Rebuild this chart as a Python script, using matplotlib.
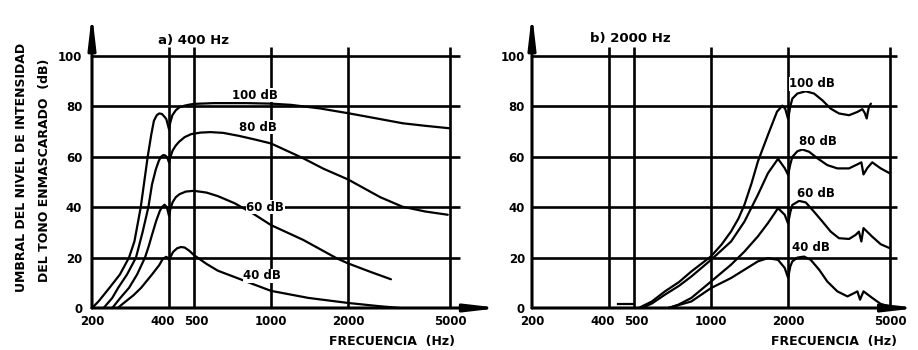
import matplotlib
matplotlib.use("Agg")
import matplotlib.pyplot as plt
import matplotlib.transforms as mtransforms

plt.rcParams['font.family'] = ['DejaVu Sans']

# ---------------- data ----------------
freq_ticks = [200, 400, 500, 1000, 2000, 5000]
freq_tick_labels = ["200", "400", "500", "1000", "2000", "5000"]
level_ticks = [0, 20, 40, 60, 80, 100]
level_tick_labels = ["0", "20", "40", "60", "80", "100"]
curve_names = ["100 dB", "80 dB", "60 dB", "40 dB"]

# a) masker 400 Hz
a100_f = [200, 212, 234, 257, 279, 293, 310, 330, 341, 349, 358, 366, 375, 383, 390, 396, 400, 404, 412, 425, 440, 460, 480, 500, 600, 800, 1000, 1200, 1550, 2000, 2500, 3270, 4000, 5000]
a100_y = [0, 2.6, 8, 13.3, 20, 26.5, 40, 60, 69, 74.3, 76.5, 77.2, 77, 76, 75, 72.5, 70.8, 73.5, 76.5, 78.5, 79.7, 80.3, 80.7, 81, 81.3, 81.3, 81.1, 80.6, 79.2, 77.3, 75.5, 73.3, 72.3, 71.3]
a80_f = [222, 240, 253, 274, 297, 315, 332, 343, 355, 365, 372, 380, 387, 394, 400, 405, 413, 425, 438, 460, 488, 530, 580, 650, 750, 870, 1000, 1337, 1600, 2000, 2667, 3260, 4000, 4900]
a80_y = [0, 4, 8, 13.3, 20, 30, 40, 49, 55, 58.5, 60, 60.7, 60.5, 59.5, 57.7, 60, 62.5, 64.5, 66, 67.8, 69, 69.6, 69.8, 69.5, 68.3, 66.8, 65.3, 59.4, 55.3, 51, 44, 40.2, 38.3, 37]
a60_f = [240, 258, 279, 300, 322, 333, 343, 356, 368, 375, 384, 392, 400, 405, 413, 425, 440, 465, 500, 560, 620, 720, 850, 1000, 1337, 1807, 2000, 2436, 2940]
a60_y = [0, 4, 8, 13.3, 20, 24.5, 29, 34.5, 38.5, 40, 41, 40, 36.5, 39.5, 42, 44, 45.2, 46.2, 46.5, 45.8, 44.4, 41.6, 37.5, 32.9, 27, 19.7, 17.7, 14.4, 11.4]
a40_f = [252, 270, 290, 311, 343, 366, 378, 390, 396, 400, 405, 415, 430, 445, 460, 480, 500, 530, 560, 620, 720, 850, 1000, 1400, 2000, 2600, 3190]
a40_y = [0, 2.5, 5, 8, 13.3, 17, 19.5, 20.3, 19.8, 19, 20.3, 22.3, 23.7, 24.2, 24, 22.7, 21, 19.2, 17.5, 14.8, 12.3, 9.5, 6.8, 4, 2, 0.8, 0]

# b) masker 2000 Hz
b100_f = [522, 588, 661, 750, 838, 1000, 1100, 1198, 1280, 1351, 1440, 1524, 1669, 1810, 1900, 1950, 2000, 2040, 2078, 2174, 2344, 2526, 2723, 2935, 3160, 3460, 3729, 3900, 3980, 4056, 4100, 4140, 4210]
b100_y = [0, 2.6, 6.6, 10.3, 14.5, 20.5, 25.2, 30.4, 35.5, 41, 49.5, 58.1, 68.7, 77.9, 80.3, 79, 75, 80, 83.1, 85.1, 86, 85.1, 82.4, 79.1, 77.2, 76.5, 77.8, 78.9, 77.5, 75.2, 78, 79.8, 81.1]
b80_f = [538, 588, 661, 750, 838, 1000, 1198, 1351, 1524, 1669, 1827, 1940, 2000, 2040, 2078, 2174, 2274, 2416, 2604, 2846, 3114, 3460, 3729, 3865, 3940, 4082, 4262, 4600, 5000]
b80_y = [0, 1.8, 5.3, 8.8, 12.5, 19.1, 26.4, 34.3, 44.9, 53.5, 59.2, 55.5, 52.8, 57, 60, 62.2, 62.9, 62, 59.4, 56.7, 55.4, 55.4, 57, 57.8, 53, 55.6, 57.8, 55.4, 53.4]
b60_f = [682, 745, 838, 1000, 1198, 1351, 1524, 1669, 1827, 1940, 2000, 2040, 2078, 2208, 2344, 2526, 2723, 2935, 3160, 3460, 3670, 3780, 3865, 3940, 4262, 4600, 5000]
b60_y = [0, 1.3, 4, 10.5, 17.2, 22.4, 28.4, 33.7, 39.6, 37, 33.5, 38, 40.9, 42.5, 41.9, 38.2, 34.3, 30.3, 27.7, 27.4, 29, 30.3, 26.4, 31.7, 28.3, 25.3, 23.7]
b40_f = [682, 838, 1000, 1198, 1351, 1524, 1669, 1827, 1940, 2000, 2040, 2078, 2174, 2310, 2452, 2644, 2846, 3114, 3410, 3620, 3729, 3820, 3940, 4262, 4600, 5000]
b40_y = [0, 2.6, 7.9, 11.9, 15.2, 18.5, 19.8, 19.1, 15.9, 12, 16.5, 18.5, 20, 20.4, 19.1, 15.2, 10.5, 6.6, 4.6, 5.9, 6.6, 3.3, 6.6, 4, 1.6, 0.6]
b_stub_f = [434, 500]
b_stub_y = [1.6, 1.6]

panels = [
    dict(title="a) 400 Hz",
         curves=[(a100_f, a100_y), (a80_f, a80_y), (a60_f, a60_y), (a40_f, a40_y)],
         label_pos=[(867, 84.5), (889, 71.8), (948, 40.0), (923, 12.7)],
         title_pos=(362, 106.3), hline_end=5480, arrow_end=7840, ypad=7),
    dict(title="b) 2000 Hz",
         curves=[(b100_f, b100_y), (b80_f, b80_y), (b60_f, b60_y), (b40_f, b40_y)],
         label_pos=[(2483, 88.9), (2619, 66.0), (2580, 45.5), (2467, 24.0)],
         title_pos=(337, 107.0), hline_end=5320, arrow_end=6440, ypad=5),
]

W, H = 918, 350
fig = plt.figure(figsize=(W / 100, H / 100), dpi=100)
fig.patch.set_facecolor("white")

ax_lefts = [92, 532]
GRID_LW = 1.9
CURVE_LW = 1.6
FS_TICK = 8.5
FS_LAB = 8.5
# small horizontal nudges (points) for crowded tick labels 400 / 500
label_nudge = {"400": -4.5, "500": 1.5}

for i, p in enumerate(panels):
    x0 = ax_lefts[i]
    ax = fig.add_axes([x0 / W, 1 - 308 / H, 358 / W, 252 / H])
    ax.set_xscale("log")
    ax.set_xlim(200, 5000)
    ax.set_ylim(0, 100)
    for s in ax.spines.values():
        s.set_visible(False)
    ax.set_xticks(freq_ticks)
    ax.set_xticklabels(freq_tick_labels)
    ax.xaxis.set_minor_locator(matplotlib.ticker.NullLocator())
    ax.set_yticks(level_ticks)
    ax.set_yticklabels(level_tick_labels)
    ax.tick_params(axis="x", length=0, pad=5, labelsize=FS_TICK)
    ax.tick_params(axis="y", length=0, pad=p["ypad"], labelsize=FS_TICK)
    for t in ax.get_xticklabels() + ax.get_yticklabels():
        t.set_fontweight("bold")
    for t in ax.get_xticklabels():
        dx = label_nudge.get(t.get_text(), 0)
        if dx:
            t.set_transform(t.get_transform() +
                            mtransforms.ScaledTranslation(dx / 72, 0, fig.dpi_scale_trans))

    # grid lines
    ax.hlines(level_ticks[1:], 200, p["hline_end"], colors="black", lw=GRID_LW, clip_on=False, zorder=2)
    ax.vlines(freq_ticks[1:], 0, 103.5, colors="black", lw=GRID_LW, clip_on=False, zorder=2)

    # axes with arrows
    ax.annotate("", xy=(200, 117), xytext=(200, 0), annotation_clip=False,
                arrowprops=dict(arrowstyle="-|>,head_length=1.9,head_width=0.22",
                                lw=2.2, color="black", mutation_scale=10, shrinkA=0, shrinkB=0))
    ax.annotate("", xy=(p["arrow_end"], 0), xytext=(200, 0), annotation_clip=False,
                arrowprops=dict(arrowstyle="-|>,head_length=1.9,head_width=0.22",
                                lw=2.2, color="black", mutation_scale=10, shrinkA=0, shrinkB=0))

    # curves
    for (fx, fy) in p["curves"]:
        ax.plot(fx, fy, color="black", lw=CURVE_LW, solid_joinstyle="round",
                solid_capstyle="round", clip_on=False, zorder=3)
    if i == 1:
        ax.plot(b_stub_f, b_stub_y, color="black", lw=CURVE_LW, clip_on=False, zorder=3)

    for name, (lx, ly) in zip(curve_names, p["label_pos"]):
        ax.text(lx, ly, name, ha="center", va="center", fontsize=FS_LAB, fontweight="bold",
                zorder=4, bbox=dict(boxstyle="square,pad=0.05", fc="white", ec="none"))

    ax.text(p["title_pos"][0], p["title_pos"][1], p["title"], ha="left", va="center",
            fontsize=9.5, fontweight="bold", clip_on=False)

# axis labels
fig.text(455 / W, 1 - 342 / H, "FRECUENCIA  (Hz)", ha="right", va="center",
         fontsize=9, fontweight="bold")
fig.text(897 / W, 1 - 342 / H, "FRECUENCIA  (Hz)", ha="right", va="center",
         fontsize=9, fontweight="bold")
fig.text(22 / W, 1 - 167 / H, "UMBRAL DEL NIVEL DE INTENSIDAD", rotation=90,
         ha="center", va="center", fontsize=9, fontweight="bold")
fig.text(45 / W, 1 - 170 / H, "DEL TONO ENMASCARADO  (dB)", rotation=90,
         ha="center", va="center", fontsize=9, fontweight="bold")

fig.savefig("out.png", dpi=100)
